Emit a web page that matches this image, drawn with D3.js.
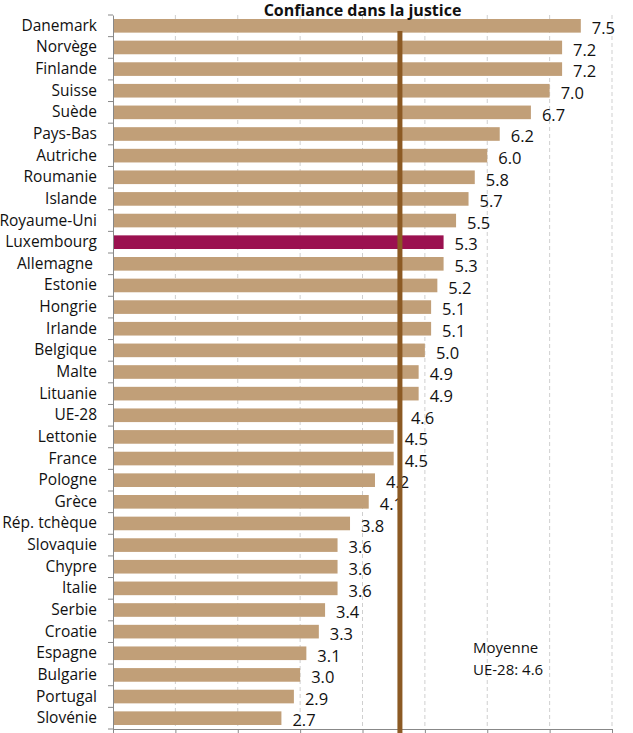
<!DOCTYPE html>
<html><head><meta charset="utf-8">
<script src="https://cdn.jsdelivr.net/npm/d3@7"></script>
<style>body{margin:0;background:#fff}svg{display:block}</style>
</head><body><div id="chart"></div>
<script>
const categories = ["Danemark","Norvège","Finlande","Suisse","Suède","Pays-Bas","Autriche","Roumanie","Islande","Royaume-Uni","Luxembourg","Allemagne\u00a0","Estonie","Hongrie","Irlande","Belgique","Malte","Lituanie","UE-28","Lettonie","France","Pologne","Grèce","Rép. tchèque","Slovaquie","Chypre","Italie","Serbie","Croatie","Espagne","Bulgarie","Portugal","Slovénie"];
const values = [7.5,7.2,7.2,7.0,6.7,6.2,6.0,5.8,5.7,5.5,5.3,5.3,5.2,5.1,5.1,5.0,4.9,4.9,4.6,4.5,4.5,4.2,4.1,3.8,3.6,3.6,3.6,3.4,3.3,3.1,3.0,2.9,2.7];
const highlight = "Luxembourg";
const meanValue = 4.6;
const xTicks = [0,1,2,3,4,5,6,7,8];
const title = "Confiance dans la justice";
const noteLines = ["Moyenne","UE-28: 4.6"];

const W = 633, H = 733;
const m = {left:113, right:21, top:15, bottom:4};
const font = "'Open Sans', 'Noto Sans', sans-serif";
const svg = d3.select("#chart").append("svg").attr("width",W).attr("height",H);

const x = d3.scaleLinear().domain([0,8]).range([m.left, W - m.right]);
const y = d3.scaleBand().domain(categories).range([m.top, H - m.bottom]).paddingInner(0.37).paddingOuter(0.185);
const band = d3.scaleBand().domain(categories).range([m.top, H - m.bottom]);

// gridlines
svg.append("g").selectAll("line").data(xTicks.slice(1)).join("line")
  .attr("x1", d=>x(d)).attr("x2", d=>x(d))
  .attr("y1", m.top).attr("y2", H - m.bottom)
  .attr("stroke","#cfcfcf").attr("stroke-dasharray","4,3").attr("stroke-width",1);

// bars
svg.append("g").selectAll("rect").data(categories).join("rect")
  .attr("x", x(0)+1)
  .attr("y", d=>y(d))
  .attr("width", (d,i)=>x(values[i]) - x(0) - 1)
  .attr("height", y.bandwidth())
  .attr("fill", d=> d===highlight ? "#9b1150" : "#c19f78");

// value labels
svg.append("g").selectAll("text").data(categories).join("text")
  .attr("x", (d,i)=>x(values[i]) + 11)
  .attr("y", d=>y(d) + y.bandwidth()/2 + 2)
  .attr("dy","0.38em")
  .attr("font-family", font).attr("font-size", 16.5).attr("fill","#111")
  .text((d,i)=>values[i].toFixed(1));

// axes
const yAxis = d3.axisLeft(band).tickSize(0).tickPadding(16);
const gy = svg.append("g").attr("transform",`translate(${x(0)},0)`).call(yAxis);
gy.select(".domain").attr("stroke","#888");
gy.selectAll("text").attr("font-family", font).attr("font-size", 15.5).attr("fill","#111");
// y tick marks between categories
svg.append("g").selectAll("line").data(categories.concat([null])).join("line")
  .attr("x1", x(0)-5).attr("x2", x(0))
  .attr("y1", (d,i)=> m.top + i*band.step())
  .attr("y2", (d,i)=> m.top + i*band.step())
  .attr("stroke","#888");

const xAxis = d3.axisBottom(x).tickValues(xTicks).tickSize(6).tickFormat("");
const gx = svg.append("g").attr("transform",`translate(0,${H - m.bottom})`).call(xAxis);
gx.select(".domain").attr("stroke","#888");
gx.selectAll("line").attr("stroke","#888");

// mean line
svg.append("line")
  .attr("x1", x(meanValue)).attr("x2", x(meanValue))
  .attr("y1", 31).attr("y2", H)
  .attr("stroke","#8c5a24").attr("stroke-width",5);

// title
svg.append("text").attr("x", (x(0)+x(8))/2).attr("y", 16)
  .attr("text-anchor","middle").attr("font-family", font)
  .attr("font-weight","bold").attr("font-size",16).attr("fill","#111")
  .text(title);

// note
svg.append("g").selectAll("text").data(noteLines).join("text")
  .attr("x", 473).attr("y", (d,i)=>653 + i*22)
  .attr("font-family", font).attr("font-size",15).attr("fill","#111")
  .text(d=>d);
</script></body></html>
